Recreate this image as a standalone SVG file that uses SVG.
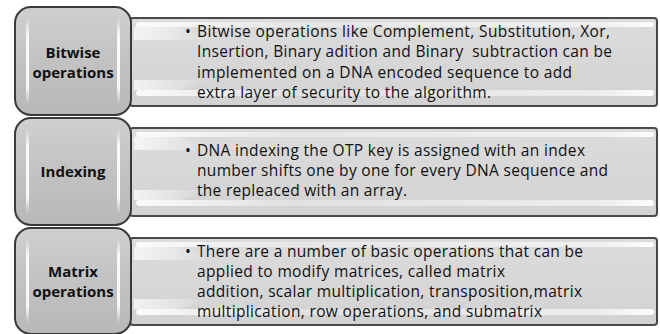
<svg xmlns="http://www.w3.org/2000/svg" width="660" height="334" viewBox="0 0 660 334">
<defs>
<linearGradient id="lg" x1="0" y1="0" x2="0" y2="1">
<stop offset="0" stop-color="#d0d0d0"/>
<stop offset="0.5" stop-color="#c2c2c2"/>
<stop offset="1" stop-color="#b8b8b8"/>
</linearGradient>
<linearGradient id="rg" x1="0" y1="0" x2="0" y2="1">
<stop offset="0" stop-color="#dcdcdc"/>
<stop offset="1" stop-color="#d2d2d2"/>
</linearGradient>
<linearGradient id="hl" x1="0" y1="0" x2="1" y2="0">
<stop offset="0" stop-color="#fff" stop-opacity="0.9"/>
<stop offset="0.3" stop-color="#fff" stop-opacity="0.3"/>
<stop offset="0.9" stop-color="#fff" stop-opacity="0.6"/>
<stop offset="1" stop-color="#fff" stop-opacity="0.95"/>
</linearGradient>
<linearGradient id="vs" x1="0" y1="0" x2="0" y2="1">
<stop offset="0" stop-color="#fff" stop-opacity="0"/>
<stop offset="0.2" stop-color="#fff" stop-opacity="0.9"/>
<stop offset="0.8" stop-color="#fff" stop-opacity="0.9"/>
<stop offset="1" stop-color="#fff" stop-opacity="0"/>
</linearGradient>
<linearGradient id="tri" x1="0" y1="0" x2="1" y2="0">
<stop offset="0" stop-color="#fff" stop-opacity="0.9"/>
<stop offset="1" stop-color="#fff" stop-opacity="0"/>
</linearGradient>
</defs>
<style>
.rect{fill:url(#rg);stroke:#4a4a4a;stroke-width:2}
.box{fill:url(#lg);stroke:#3a3a3a;stroke-width:2}
.lbl{font-family:"Open Sans","Liberation Sans",sans-serif;font-weight:bold;font-size:15px;fill:#111;text-anchor:middle}
.txt{font-family:"Open Sans","Liberation Sans",sans-serif;font-size:15.5px;fill:#111}
.hl{fill:url(#hl)}
.vs{fill:url(#vs)}
.tri{fill:url(#tri);opacity:0.8}
</style>

<g id="row1">
<rect class="rect" x="130" y="18" width="527" height="88" rx="3"/>
<rect class="hl" x="136" y="22" width="518" height="5" rx="2.5"/>
<rect class="hl" x="136" y="90" width="518" height="6" rx="3"/>
<polygon class="tri" points="134,27 180,27 210,40 134,40"/>
<polygon class="tri" points="134,90 180,90 210,80 134,80"/>
<text class="txt" x="185" y="37">•</text>
<text class="txt" x="197" y="37" textLength="413" lengthAdjust="spacing">Bitwise operations like Complement, Substitution, Xor,</text>
<text class="txt" x="197" y="57" textLength="415" lengthAdjust="spacing" xml:space="preserve">Insertion, Binary adition and Binary  subtraction can be</text>
<text class="txt" x="197" y="78" textLength="375" lengthAdjust="spacing">implemented on a DNA encoded sequence to add</text>
<text class="txt" x="197" y="98" textLength="294" lengthAdjust="spacing">extra layer of security to the algorithm.</text>
</g>
<g id="node-bitwise">
<rect class="box" x="15" y="7" width="116" height="108" rx="16"/>
<rect class="vs" x="26" y="18" width="3" height="86" rx="1.5"/>
<rect class="vs" x="117" y="18" width="3" height="86" rx="1.5"/>
<text class="lbl" x="73" y="58">Bitwise</text>
<text class="lbl" x="73" y="78">operations</text>
</g>

<g id="row2">
<rect class="rect" x="130" y="128" width="527" height="88" rx="3"/>
<rect class="hl" x="136" y="132" width="518" height="5" rx="2.5"/>
<rect class="hl" x="136" y="200" width="518" height="6" rx="3"/>
<polygon class="tri" points="134,137 180,137 210,150 134,150"/>
<polygon class="tri" points="134,200 180,200 210,190 134,190"/>
<text class="txt" x="185" y="156">•</text>
<text class="txt" x="197" y="156" textLength="388" lengthAdjust="spacing">DNA indexing the OTP key is assigned with an index</text>
<text class="txt" x="197" y="176" textLength="411" lengthAdjust="spacing">number shifts one by one for every DNA sequence and</text>
<text class="txt" x="197" y="196" textLength="210" lengthAdjust="spacing">the repleaced with an array.</text>
</g>
<g id="node-indexing">
<rect class="box" x="15" y="118" width="116" height="107" rx="16"/>
<rect class="vs" x="26" y="129" width="3" height="85" rx="1.5"/>
<rect class="vs" x="117" y="129" width="3" height="85" rx="1.5"/>
<text class="lbl" x="73" y="177">Indexing</text>
</g>

<g id="row3">
<rect class="rect" x="130" y="238" width="527" height="87" rx="3"/>
<rect class="hl" x="136" y="242" width="518" height="5" rx="2.5"/>
<rect class="hl" x="136" y="309" width="518" height="6" rx="3"/>
<polygon class="tri" points="134,247 180,247 210,260 134,260"/>
<polygon class="tri" points="134,309 180,309 210,299 134,299"/>
<text class="txt" x="185" y="257">•</text>
<text class="txt" x="197" y="257" textLength="386" lengthAdjust="spacing">There are a number of basic operations that can be</text>
<text class="txt" x="197" y="277" textLength="308" lengthAdjust="spacing">applied to modify matrices, called matrix</text>
<text class="txt" x="197" y="297" textLength="385" lengthAdjust="spacing">addition, scalar multiplication, transposition,matrix</text>
<text class="txt" x="197" y="317" textLength="345" lengthAdjust="spacing">multiplication, row operations, and submatrix</text>
</g>
<g id="node-matrix">
<rect class="box" x="15" y="228" width="116" height="106" rx="16"/>
<rect class="vs" x="26" y="239" width="3" height="84" rx="1.5"/>
<rect class="vs" x="117" y="239" width="3" height="84" rx="1.5"/>
<text class="lbl" x="73" y="277">Matrix</text>
<text class="lbl" x="73" y="297">operations</text>
</g>
<g id="connectors"/>
</svg>
